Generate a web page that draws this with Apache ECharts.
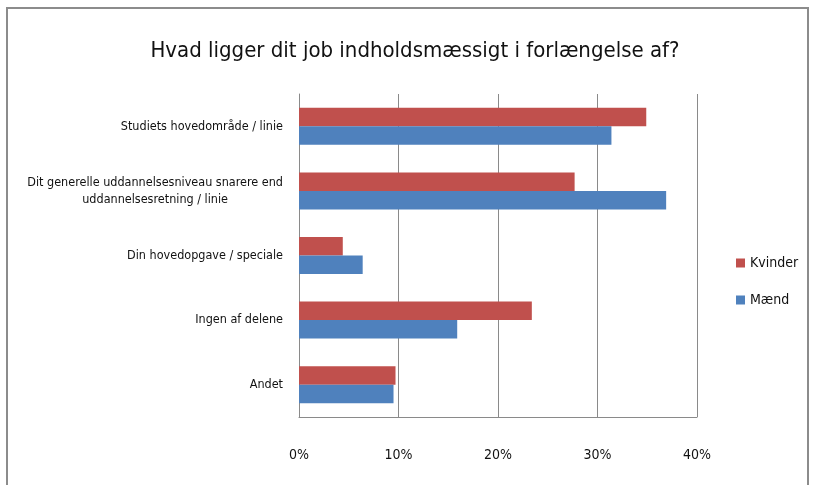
<!DOCTYPE html>
<html>
<head>
<meta charset="utf-8">
<script src="https://cdn.jsdelivr.net/npm/echarts@6/dist/echarts.min.js"></script>
<style>
  html, body { margin: 0; padding: 0; background: #fff; }
  #chart { width: 813px; height: 485px; }
</style>
</head>
<body>
<div id="chart"></div>
<script>
// data (percent)
const categories = [
    'Studiets hovedområde / linie',
    'Dit generelle uddannelsesniveau snarere end\nuddannelsesretning / linie',
    'Din hovedopgave / speciale',
    'Ingen af delene',
    'Andet'
];
const kvinder = [34.9, 27.7, 4.4, 23.4, 9.7];
const maend = [31.4, 36.9, 6.4, 15.9, 9.5];
const xTicks = [0, 10, 20, 30, 40];

const font = '"Liberation Sans Narrow", "DejaVu Sans Condensed", sans-serif';
const gridColor = '#8a8a8a';

const chart = echarts.init(document.getElementById('chart'));
const option = {
    animation: false,
    textStyle: { fontFamily: font },
    color: ['#C0504D', '#4F81BD'],
    title: {
        text: 'Hvad ligger dit job indholdsmæssigt i forlængelse af?',
        left: 410,
        top: 35,
        textAlign: 'center',
        textStyle: {
            fontFamily: font,
            fontSize: 22,
            fontWeight: 'normal',
            color: '#111'
        }
    },
    legend: {
        orient: 'vertical',
        left: 731,
        top: 251,
        itemWidth: 9,
        itemHeight: 9,
        itemGap: 23,
        icon: 'rect',
        textStyle: { fontFamily: font, fontSize: 14, color: '#111' },
        data: ['Kvinder', 'Mænd']
    },
    grid: {
        left: 299,
        right: 116,
        top: 94,
        bottom: 68
    },
    xAxis: {
        type: 'value',
        min: xTicks[0],
        max: xTicks[xTicks.length - 1],
        interval: 10,
        axisLine: { show: true, lineStyle: { color: gridColor } },
        axisTick: { show: false },
        axisLabel: {
            margin: 31,
            fontFamily: font,
            fontSize: 14,
            color: '#111',
            formatter: v => v + '%'
        },
        splitLine: { show: true, lineStyle: { color: gridColor } }
    },
    yAxis: {
        type: 'category',
        inverse: true,
        data: categories,
        axisLine: { show: true, lineStyle: { color: gridColor } },
        axisTick: { show: false },
        axisLabel: {
            margin: 16,
            color: '#111',
            fontFamily: font,
            fontSize: 12.5,
            lineHeight: 17,
            formatter: v => v.split('\n').map(s => '{c|' + s + '}').join('\n'),
            rich: {
                c: { align: 'center', fontFamily: font, fontSize: 12.5, lineHeight: 17, color: '#111' }
            }
        }
    },
    series: [
        {
            name: 'Kvinder',
            type: 'bar',
            data: kvinder,
            barWidth: 18.5,
            barGap: '0%',
            barCategoryGap: '43%'
        },
        {
            name: 'Mænd',
            type: 'bar',
            data: maend,
            barWidth: 18.5,
            barGap: '0%',
            barCategoryGap: '43%'
        }
    ],
    graphic: [
        {
            type: 'rect',
            shape: { x: 7, y: 8, width: 801, height: 490 },
            style: { fill: 'none', stroke: '#8c8c8c', lineWidth: 2 },
            silent: true
        }
    ]
};
chart.setOption(option);
</script>
</body>
</html>
